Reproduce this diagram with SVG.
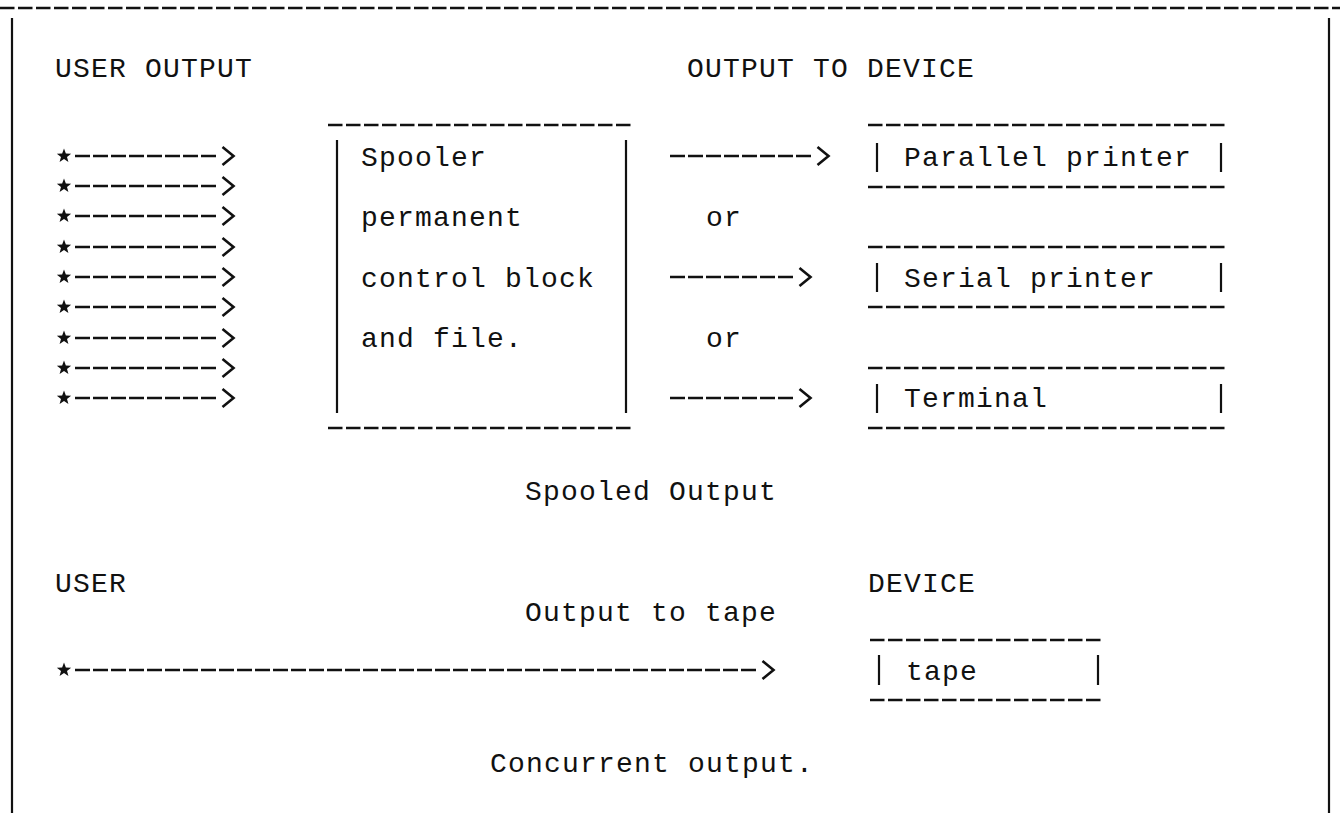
<svg xmlns="http://www.w3.org/2000/svg" width="1340" height="813" viewBox="0 0 1340 813">
<style>
text{font-family:"Liberation Mono","DejaVu Sans Mono",monospace;font-size:28px;letter-spacing:1.2px;fill:#111;}
.dash{stroke:#111;stroke-width:2.4;stroke-dasharray:14.5 3.5;fill:none;}
.bar{stroke:#111;stroke-width:2.2;fill:none;}
.arrow{stroke:#111;stroke-width:2.5;stroke-dasharray:15 3;fill:none;marker-end:url(#chev);}
.src{marker-start:url(#star);}
</style>
<defs>
<marker id="chev" viewBox="0 -10 14 20" markerWidth="14" markerHeight="20" refX="-3" refY="0" markerUnits="userSpaceOnUse" orient="auto" overflow="visible">
<path d="M0.5,-9 L11.5,0 L0.5,9" fill="none" stroke="#111" stroke-width="2.6"/>
</marker>
<marker id="star" viewBox="-8 -8 16 16" markerWidth="16" markerHeight="16" refX="11" refY="0" markerUnits="userSpaceOnUse" orient="auto" overflow="visible">
<polygon points="0,-7.5 1.85,-2.5 7.13,-2.32 3,0.97 4.41,6.07 0,3.1 -4.41,6.07 -3,0.97 -7.13,-2.32 -1.85,-2.5" fill="#111"/>
</marker>
</defs>
<rect width="1340" height="813" fill="#fff"/>
<g id="frame">
<line class="dash" x1="0" y1="8" x2="1340" y2="8"/>
<line class="bar" x1="12" y1="18" x2="12" y2="813"/>
<line class="bar" x1="1329" y1="18" x2="1329" y2="813"/>
</g>
<g id="labels">
<text x="55" y="77">USER OUTPUT</text>
<text x="687" y="77">OUTPUT TO DEVICE</text>
<text x="706" y="226">or</text>
<text x="706" y="347">or</text>
<text x="525" y="500">Spooled Output</text>
<text x="55" y="592">USER</text>
<text x="868" y="592">DEVICE</text>
<text x="525" y="621">Output to tape</text>
<text x="490" y="772">Concurrent output.</text>
</g>
<g id="spooler">
<line class="dash" x1="328" y1="125" x2="634" y2="125"/>
<line class="dash" x1="328" y1="428" x2="634" y2="428"/>
<line class="bar" x1="337" y1="140" x2="337" y2="413"/>
<line class="bar" x1="626" y1="140" x2="626" y2="413"/>
<text x="361" y="166">Spooler</text>
<text x="361" y="226">permanent</text>
<text x="361" y="287">control block</text>
<text x="361" y="347">and file.</text>
</g>
<g id="parallel-printer">
<line class="dash" x1="868" y1="125" x2="1228" y2="125"/>
<line class="dash" x1="868" y1="187" x2="1228" y2="187"/>
<line class="bar" x1="877" y1="143" x2="877" y2="172"/>
<line class="bar" x1="1221" y1="143" x2="1221" y2="172"/>
<text x="904" y="166">Parallel printer</text>
</g>
<g id="serial-printer">
<line class="dash" x1="868" y1="247" x2="1228" y2="247"/>
<line class="dash" x1="868" y1="307" x2="1228" y2="307"/>
<line class="bar" x1="877" y1="263" x2="877" y2="292"/>
<line class="bar" x1="1221" y1="263" x2="1221" y2="292"/>
<text x="904" y="287">Serial printer</text>
</g>
<g id="terminal">
<line class="dash" x1="868" y1="368" x2="1228" y2="368"/>
<line class="dash" x1="868" y1="428" x2="1228" y2="428"/>
<line class="bar" x1="877" y1="384" x2="877" y2="413"/>
<line class="bar" x1="1221" y1="384" x2="1221" y2="413"/>
<text x="904" y="407">Terminal</text>
</g>
<g id="tape">
<line class="dash" x1="870" y1="640" x2="1104" y2="640"/>
<line class="dash" x1="870" y1="700" x2="1104" y2="700"/>
<line class="bar" x1="879" y1="655" x2="879" y2="685"/>
<line class="bar" x1="1098" y1="655" x2="1098" y2="685"/>
<text x="906" y="680">tape</text>
</g>
<g id="connectors">
<line class="arrow src" x1="75" y1="156" x2="219" y2="156"/>
<line class="arrow src" x1="75" y1="186" x2="219" y2="186"/>
<line class="arrow src" x1="75" y1="216" x2="219" y2="216"/>
<line class="arrow src" x1="75" y1="247" x2="219" y2="247"/>
<line class="arrow src" x1="75" y1="277" x2="219" y2="277"/>
<line class="arrow src" x1="75" y1="307" x2="219" y2="307"/>
<line class="arrow src" x1="75" y1="338" x2="219" y2="338"/>
<line class="arrow src" x1="75" y1="368" x2="219" y2="368"/>
<line class="arrow src" x1="75" y1="398" x2="219" y2="398"/>
<line class="arrow" x1="670" y1="156" x2="814" y2="156"/>
<line class="arrow" x1="670" y1="277" x2="796" y2="277"/>
<line class="arrow" x1="670" y1="398" x2="796" y2="398"/>
<line class="arrow src" x1="75" y1="670" x2="759" y2="670"/>
</g>
</svg>
